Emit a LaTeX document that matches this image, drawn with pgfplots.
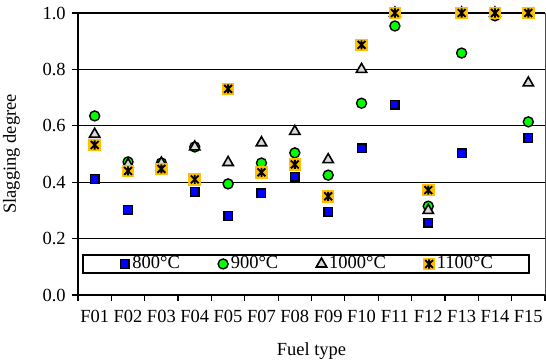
\documentclass[border=0pt]{standalone}
\usepackage{pgfplots}
\pgfplotsset{compat=1.18}
\usepackage{fontspec}
\setmainfont{Liberation Serif}
\definecolor{mblue}{HTML}{0000FF}
\definecolor{mgreen}{HTML}{00FF00}
\definecolor{morange}{HTML}{FFC000}
\definecolor{mtri}{HTML}{D9D9D9}
\pgfdeclareplotmark{xstar}{%
  \pgfpathrectangle{\pgfpoint{-\pgfplotmarksize}{-\pgfplotmarksize}}{\pgfpoint{2\pgfplotmarksize}{2\pgfplotmarksize}}%
  \pgfsetfillcolor{morange}\pgfusepathqfill
  \pgfpathmoveto{\pgfpoint{-0.62\pgfplotmarksize}{-0.62\pgfplotmarksize}}%
  \pgfpathlineto{\pgfpoint{0.62\pgfplotmarksize}{0.62\pgfplotmarksize}}%
  \pgfpathmoveto{\pgfpoint{-0.62\pgfplotmarksize}{0.62\pgfplotmarksize}}%
  \pgfpathlineto{\pgfpoint{0.62\pgfplotmarksize}{-0.62\pgfplotmarksize}}%
  \pgfpathmoveto{\pgfpoint{0pt}{-0.72\pgfplotmarksize}}%
  \pgfpathlineto{\pgfpoint{0pt}{0.72\pgfplotmarksize}}%
  \pgfusepathqstroke}
\begin{document}
\fontsize{18.5bp}{21bp}\selectfont
\begin{tikzpicture}
\begin{axis}[
  name=ax, at={(0,0)}, anchor=south west,
  scale only axis, width=467bp, height=282bp,
  xmin=-0.5, xmax=13.5, ymin=0, ymax=1,
  xtick={0,...,13},
  xticklabels={F01,F02,F03,F04,F05,F07,F08,F09,F10,F11,F12,F13,F14,F15},
  major x tick style={draw=none},
  minor xtick={-0.5,0.5,...,13.5},
  ytick={0,0.2,0.4,0.6,0.8,1.0},
  tick align=outside,
  major tick length=6bp, minor tick length=6bp,
  every tick/.style={black, line width=1.2bp},
  axis x line*=bottom, axis y line*=left,
  axis line style={line width=2.2bp, black},
  ymajorgrids, grid style={black, line width=0.9bp},
  /pgf/number format/assume math mode=true,
  yticklabel style={/pgf/number format/fixed, /pgf/number format/fixed zerofill, /pgf/number format/precision=1},
  xticklabel style={yshift=-3bp},
  xlabel={Fuel type}, ylabel={Slagging degree},
  xlabel style={yshift=-7bp},
  ylabel style={yshift=10bp},
  clip=false,
  legend columns=4,
  legend style={at={(0.488,0.11)}, anchor=center, draw=black, line width=2bp,
    inner xsep=35bp, inner ysep=0.5bp,
    /tikz/every even column/.append style={column sep=35bp},
    nodes={inner sep=1.2bp}},
  legend image code/.code={\path (-6bp,0bp) (5.5bp,0bp); \draw[#1] plot coordinates {(0bp,0bp)};},
]
\draw[line width=2.2bp] (rel axis cs:0,1) -- (rel axis cs:1,1);
\draw[line width=0.8bp, black!70] (rel axis cs:1,0) -- (rel axis cs:1,1);
% 800
\addplot[only marks, mark=square*, mark size=4.3bp, mark options={fill=mblue, draw=black, line width=1.4bp}]
 coordinates {(0,0.411) (1,0.302) (3,0.366) (4,0.28) (5,0.36) (6,0.42) (7,0.295) (8,0.52) (9,0.675) (10,0.257) (11,0.503) (12,1.0) (13,0.557)};
\addlegendentry{800°C}
% 900
\addplot[only marks, mark=*, mark size=5bp, mark options={fill=mgreen, draw=black, line width=1.4bp}]
 coordinates {(0,0.635) (1,0.472) (2,0.468) (3,0.525) (4,0.394) (5,0.468) (6,0.504) (7,0.425) (8,0.68) (9,0.954) (10,0.315) (11,0.858) (12,0.99) (13,0.614)};
\addlegendentry{900°C}
% 1000
\addplot[only marks, mark=triangle*, mark size=6bp, mark options={fill=mtri, draw=black, line width=1.6bp}]
 coordinates {(0,0.57) (1,0.463) (2,0.468) (3,0.525) (4,0.47) (5,0.54) (6,0.58) (7,0.48) (8,0.80) (9,1.0) (10,0.30) (11,1.0) (12,1.0) (13,0.752)};
\addlegendentry{1000°C}
% 1100
\addplot[only marks, mark=xstar, mark size=6.3bp, mark options={draw=black, line width=1.9bp}]
 coordinates {(0,0.532) (1,0.44) (2,0.447) (3,0.41) (4,0.731) (5,0.435) (6,0.463) (7,0.35) (8,0.887) (9,1.0) (10,0.372) (11,1.0) (12,1.0) (13,1.0)};
\addlegendentry{1100°C}
\end{axis}
\pgfresetboundingbox
\path[use as bounding box] (-78bp,-65bp) rectangle (468bp,295bp);
\end{tikzpicture}
\end{document}
